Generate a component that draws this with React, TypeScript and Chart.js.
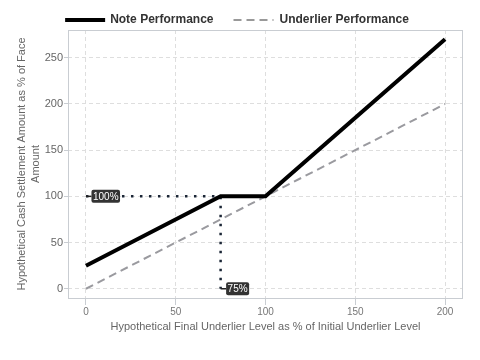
import React, { useEffect, useRef } from "react";
import { Chart, registerables } from "chart.js";

Chart.register(...registerables);

const FONT = "'Liberation Sans', Arial, Helvetica, sans-serif";

const seriesNames = ["Note Performance", "Underlier Performance"];
const noteX = [0, 75, 100, 200];
const noteY = [25, 100, 100, 270];
const underlierX = [0, 200];
const underlierY = [0, 200];
const guideX = [0, 75, 75];
const guideY = [100, 100, 0];
const calloutX = [0, 75];
const calloutY = [100, 0];
const calloutText = ["100%", "75%"];
const xTicks = [0, 50, 100, 150, 200];
const yTicks = [0, 50, 100, 150, 200, 250];
const xTitle = "Hypothetical Final Underlier Level as % of Initial Underlier Level";
const yTitle = ["Hypothetical Cash Settlement Amount as % of Face", "Amount"];

const toPoints = (xs: number[], ys: number[]) => xs.map((x, i) => ({ x, y: ys[i] }));

const extrasPlugin = {
  id: "extras",
  beforeDatasetsDraw(chart: any) {
    const { ctx, chartArea: a } = chart;
    ctx.save();
    ctx.strokeStyle = "#c9cdd2";
    ctx.lineWidth = 1;
    ctx.strokeRect(Math.round(a.left) + 0.5, Math.round(a.top) + 0.5, Math.round(a.right - a.left) - 1, Math.round(a.bottom - a.top));
    ctx.restore();
  },
  afterDatasetsDraw(chart: any) {
    const { ctx, scales } = chart;
    ctx.save();
    ctx.font = "10px " + FONT;
    for (let i = 0; i < calloutText.length; i++) {
      const px = scales.x.getPixelForValue(calloutX[i]);
      const py = scales.y.getPixelForValue(calloutY[i]);
      const tw = ctx.measureText(calloutText[i]).width;
      const bx = px + 5.5;
      const bh = 13;
      const bw = tw + 3;
      ctx.strokeStyle = "#222";
      ctx.lineWidth = 1.5;
      ctx.setLineDash([]);
      ctx.beginPath();
      ctx.moveTo(px, py);
      ctx.lineTo(bx, py);
      ctx.stroke();
      ctx.fillStyle = "#333";
      ctx.beginPath();
      (ctx as any).roundRect(bx, py - bh / 2, bw, bh, 2);
      ctx.fill();
      ctx.fillStyle = "#fff";
      ctx.textBaseline = "middle";
      ctx.textAlign = "left";
      ctx.fillText(calloutText[i], bx + 1.5, py + 0.5);
    }
    ctx.restore();
  },
  afterDraw(chart: any) {
    const { ctx } = chart;
    ctx.save();
    ctx.font = "bold 12px " + FONT;
    const w1 = ctx.measureText(seriesNames[0]).width;
    const w2 = ctx.measureText(seriesNames[1]).width;
    const total = 40 + 5 + w1 + 20 + 40 + 6 + w2;
    let x = 237 - total / 2;
    const y = 20;
    ctx.strokeStyle = "#000";
    ctx.lineWidth = 4;
    ctx.setLineDash([]);
    ctx.beginPath();
    ctx.moveTo(x, y);
    ctx.lineTo(x + 40, y);
    ctx.stroke();
    ctx.fillStyle = "#333";
    ctx.textBaseline = "middle";
    ctx.textAlign = "left";
    ctx.fillText(seriesNames[0], x + 45, y);
    x += 45 + w1 + 20;
    ctx.strokeStyle = "#999";
    ctx.lineWidth = 2;
    ctx.setLineDash([8, 5]);
    ctx.beginPath();
    ctx.moveTo(x, y);
    ctx.lineTo(x + 40, y);
    ctx.stroke();
    ctx.setLineDash([]);
    ctx.fillText(seriesNames[1], x + 46, y);
    ctx.restore();
  },
};

export default function App() {
  const ref = useRef<HTMLCanvasElement>(null);
  useEffect(() => {
    if (!ref.current) return;
    const chart = new Chart(ref.current, {
      type: "line",
      data: {
        datasets: [
          {
            label: seriesNames[0],
            data: toPoints(noteX, noteY),
            borderColor: "#000",
            borderWidth: 4,
            pointRadius: 0,
            tension: 0,
          },
          {
            label: seriesNames[1],
            data: toPoints(underlierX, underlierY),
            borderColor: "#9a9a9f",
            borderWidth: 2,
            borderDash: [8, 5],
            pointRadius: 0,
          },
          {
            label: "guide",
            data: toPoints(guideX, guideY),
            borderColor: "#1b2636",
            borderWidth: 2.5,
            borderDash: [2.5, 6.5],
            pointRadius: 0,
          },
        ],
      },
      options: {
        animation: false,
        responsive: false,
        devicePixelRatio: 1,
        layout: { padding: { top: 30, right: 17, left: 0, bottom: 0 } },
        plugins: {
          legend: { display: false },
          tooltip: { enabled: false },
        },
        scales: {
          x: {
            type: "linear",
            min: -10,
            max: 210,
            afterBuildTicks: (s: any) => {
              s.ticks = xTicks.map((v) => ({ value: v }));
            },
            afterFit: (s: any) => {
              s.height = 62;
            },
            grid: {
              color: "#dedede",
              tickColor: "#c9cdd2",
              tickLength: 7,
              tickBorderDash: [],
            },
            border: { display: false, dash: [4, 3] },
            ticks: {
              color: "#777",
              padding: 1,
              font: { family: FONT, size: 10 },
              maxRotation: 0,
            },
            title: {
              display: true,
              text: xTitle,
              color: "#666",
              font: { family: FONT, size: 11 },
              padding: { top: 0, bottom: 26 },
            },
          },
          y: {
            type: "linear",
            min: -10,
            max: 280,
            afterBuildTicks: (s: any) => {
              s.ticks = yTicks.map((v) => ({ value: v }));
            },
            afterFit: (s: any) => {
              s.width = 68;
            },
            grid: {
              color: "#dedede",
              tickColor: "#c9cdd2",
              tickLength: 4,
              tickBorderDash: [],
            },
            border: { display: false, dash: [4, 3] },
            ticks: {
              color: "#666",
              padding: 1,
              font: { family: FONT, size: 11 },
            },
            title: {
              display: true,
              text: yTitle,
              color: "#666",
              font: { family: FONT, size: 11, lineHeight: 1.25 },
              padding: { top: 15, bottom: 0 },
            },
          },
        },
      },
      plugins: [extrasPlugin],
    } as any);
    return () => chart.destroy();
  }, []);
  return (
    <div style={{ position: "fixed", left: 0, top: 0, width: 480, height: 360, background: "#fff" }}>
      <canvas ref={ref} width={480} height={360} style={{ display: "block" }} />
    </div>
  );
}
